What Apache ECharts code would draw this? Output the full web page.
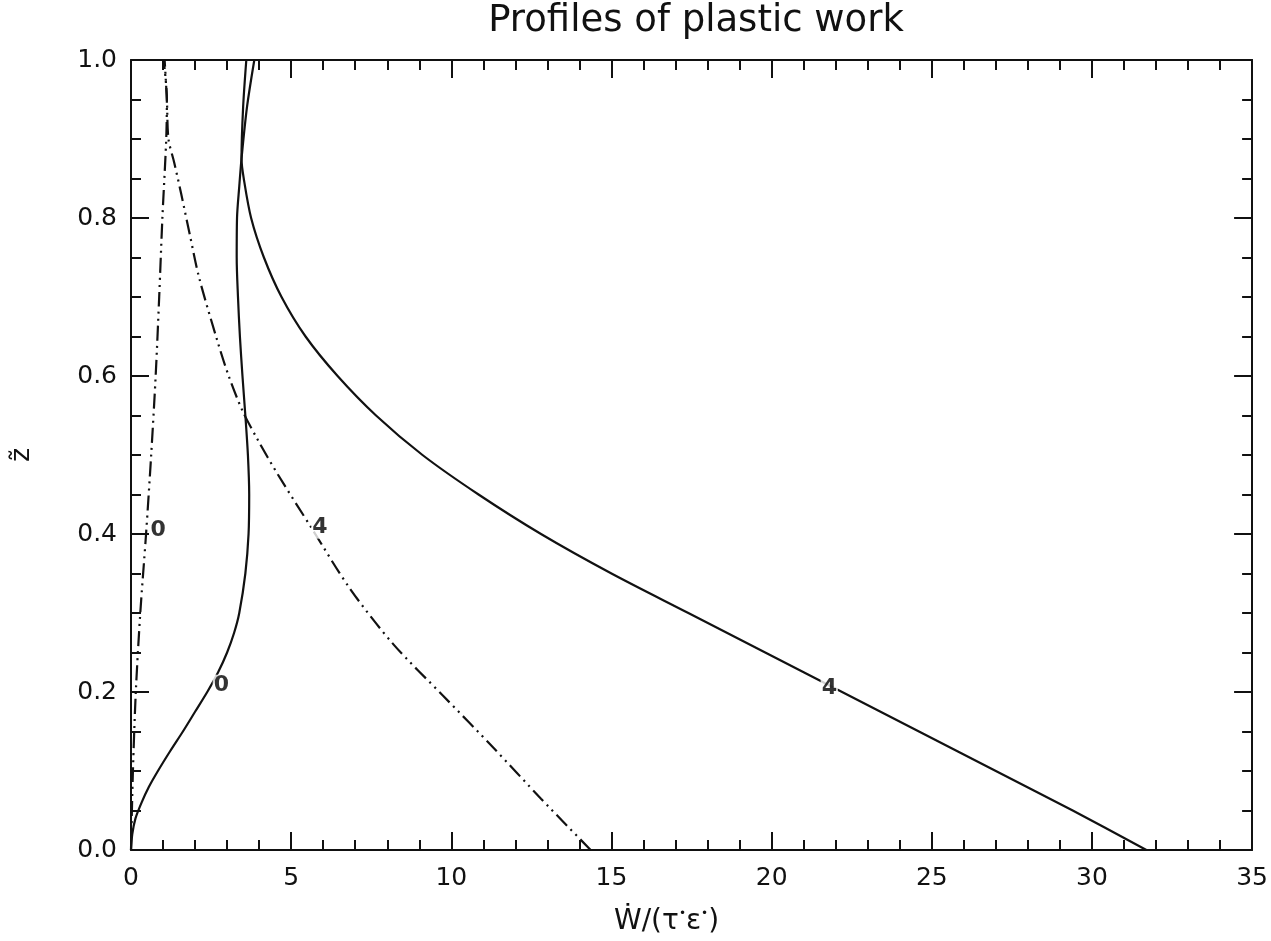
<!DOCTYPE html>
<html>
<head>
<meta charset="utf-8">
<script src="https://cdn.jsdelivr.net/npm/echarts@6/dist/echarts.min.js"></script>
<style>
html,body{margin:0;padding:0;background:#fff;}
#chart{width:1271px;height:941px;}
</style>
</head>
<body>
<div id="chart"></div>
<script>
// ---- data: [W/(tau*eps*), z~] ----
const solid0 = [[0,0],[0.04,0.02],[0.14,0.04],[0.33,0.06],[0.56,0.08],[0.84,0.1],[1.22,0.125],[1.62,0.15],[2.0,0.175],[2.38,0.2],[2.72,0.225],[3.0,0.25],[3.22,0.275],[3.38,0.3],[3.57,0.35],[3.67,0.4],[3.69,0.45],[3.65,0.5],[3.57,0.55],[3.48,0.6],[3.4,0.65],[3.34,0.7],[3.3,0.75],[3.31,0.8],[3.38,0.84],[3.45,0.875],[3.62,0.94],[3.85,1.0]];
const solid4 = [[31.7,0],[29.4,0.05],[27.0,0.1],[24.6,0.15],[22.2,0.2],[19.8,0.25],[17.4,0.3],[15.0,0.35],[12.8,0.4],[10.85,0.45],[9.1,0.5],[7.65,0.55],[6.45,0.6],[5.45,0.65],[4.7,0.7],[4.15,0.75],[3.75,0.8],[3.52,0.85],[3.45,0.875],[3.5,0.94],[3.6,1.0]];
const dash0 = [[0,0],[0.06,0.1],[0.15,0.2],[0.29,0.3],[0.47,0.4],[0.63,0.5],[0.77,0.6],[0.88,0.7],[0.98,0.8],[1.1,0.9],[1.12,0.95],[1.02,1.0]];
const dash4 = [[14.35,0],[12.8,0.065],[11.3,0.13],[9.75,0.195],[8.2,0.26],[6.85,0.33],[5.63,0.408],[4.59,0.475],[3.96,0.519],[3.48,0.556],[3.05,0.6],[2.7,0.644],[2.13,0.724],[1.83,0.78],[1.57,0.83],[1.35,0.87],[1.17,0.9],[1.12,0.95],[1.05,1.0]];
const curveLabels = [[0.85,0.405,'0'],[2.82,0.208,'0'],[5.9,0.408,'4'],[21.8,0.205,'4']];
const xTicks = {min:0, max:35, interval:5};
const yTicks = {min:0, max:1, interval:0.2};
const titleText = 'Profiles of plastic work';

const FONT = 'DejaVu Sans';
const chart = echarts.init(document.getElementById('chart'));
const tickCommon = {inside:true, length:18, lineStyle:{color:'#111', width:2}};
const minorCommon = {show:true, length:10, lineStyle:{color:'#111', width:2}};
const axisLineCommon = {show:true, onZero:false, lineStyle:{color:'#111', width:2}};
const dashPattern = [15,5,2,5,2,5];

function lineSeries(data, dashed){
  return {type:'line', data:data, xAxisIndex:0, yAxisIndex:0, showSymbol:false, smooth:0.3,
    lineStyle:{color:'#111', width:2.2, type: dashed ? dashPattern : 'solid'}, z:3, silent:true};
}

chart.setOption({
  animation:false,
  backgroundColor:'#fff',
  title:{text:titleText, left:691, top:-2, textAlign:'center',
    textStyle:{fontFamily:FONT, fontSize:37, fontWeight:'normal', color:'#111'}},
  grid:{left:122, right:17, top:60, bottom:83},
  xAxis:[
    {type:'value', min:xTicks.min, max:xTicks.max, interval:xTicks.interval, position:'bottom',
     axisLine:axisLineCommon, axisTick:tickCommon, minorTick:Object.assign({splitNumber:5}, minorCommon),
     splitLine:{show:false},
     axisLabel:{margin:16, fontFamily:FONT, fontSize:25, color:'#111'},
     name:'{b|Ẇ}{a|/(τ}{s|•}{a|ε}{s|•}{a|)}', nameLocation:'middle', nameGap:58,
     nameTextStyle:{padding:[0,50,0,0], rich:{
       a:{fontFamily:FONT, fontSize:28, color:'#111'},
       b:{fontFamily:FONT, fontSize:28, color:'#111'},
       s:{fontFamily:FONT, fontSize:12, color:'#111', verticalAlign:'top', padding:[0,0,16,0]}
     }}},
    {type:'value', min:xTicks.min, max:xTicks.max, interval:xTicks.interval, position:'top',
     axisLine:axisLineCommon, axisTick:tickCommon, minorTick:Object.assign({splitNumber:5}, minorCommon),
     splitLine:{show:false}, axisLabel:{show:false}}
  ],
  yAxis:[
    {type:'value', min:yTicks.min, max:yTicks.max, interval:yTicks.interval, position:'left',
     axisLine:axisLineCommon, axisTick:tickCommon, minorTick:Object.assign({splitNumber:4}, minorCommon),
     splitLine:{show:false},
     axisLabel:{margin:14, fontFamily:FONT, fontSize:25, color:'#111', formatter:v=>v.toFixed(1)},
     name:'z̃', nameLocation:'middle', nameGap:96, nameRotate:90,
     nameTextStyle:{fontFamily:FONT, fontSize:27, color:'#111'}},
    {type:'value', min:yTicks.min, max:yTicks.max, interval:yTicks.interval, position:'right',
     axisLine:axisLineCommon, axisTick:tickCommon, minorTick:Object.assign({splitNumber:4}, minorCommon),
     splitLine:{show:false}, axisLabel:{show:false}}
  ],
  series:[
    lineSeries(solid0, false),
    lineSeries(solid4, false),
    lineSeries(dash0, true),
    lineSeries(dash4, true),
    {type:'scatter', xAxisIndex:0, yAxisIndex:0, symbolSize:0, silent:true, z:5,
     itemStyle:{color:'#000'},
     data:curveLabels.map(d=>({value:[d[0],d[1]], name:d[2]})),
     label:{show:true, position:'inside',
       formatter:p=>p.name, fontFamily:FONT, fontSize:22, fontWeight:'bold', color:'#000',
       textBorderWidth:0, backgroundColor:'#fff', padding:[0,1]}}
  ]
});
</script>
</body>
</html>
